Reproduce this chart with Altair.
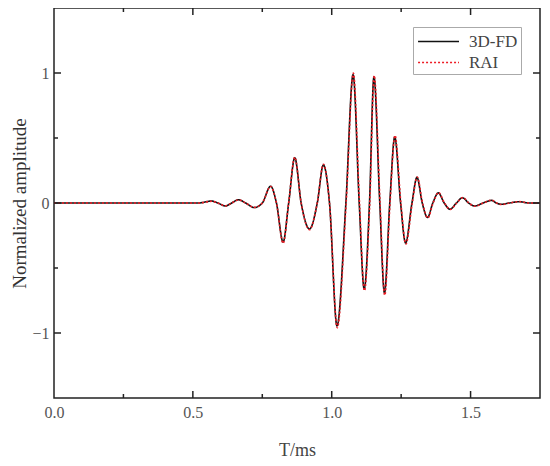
import altair as alt
import pandas as pd

# 3D-FD trace (time in ms, normalized amplitude)
t_fd = [0.0, 0.52, 0.568, 0.59, 0.617, 0.64, 0.664, 0.69, 0.721, 0.75, 0.780, 0.801, 0.825, 0.845,
        0.867, 0.890, 0.920, 0.948, 0.970, 0.992, 1.019, 1.051, 1.077, 1.099, 1.117, 1.136, 1.152,
        1.173, 1.190, 1.209, 1.227, 1.248, 1.266, 1.289, 1.307, 1.326, 1.345, 1.364, 1.384, 1.405,
        1.426, 1.449, 1.471, 1.493, 1.515, 1.545, 1.575, 1.593, 1.61, 1.64, 1.676, 1.71, 1.75]
a_fd = [0.0, 0.0, 0.015, 0.0, -0.023, 0.0, 0.025, 0.0, -0.035, 0.0, 0.129, 0.0, -0.30, 0.0,
        0.348, 0.0, -0.20, 0.0, 0.293, 0.0, -0.945, 0.0, 0.987, 0.0, -0.662, 0.0, 0.97,
        0.0, -0.692, 0.0, 0.508, 0.0, -0.308, 0.0, 0.197, 0.0, -0.111, 0.0, 0.078, 0.0,
        -0.048, 0.0, 0.040, 0.0, -0.023, 0.0, 0.02, 0.0, -0.01, 0.0, 0.01, 0.0, 0.0]

# RAI trace
t_rai = [0.0, 0.52, 0.568, 0.59, 0.617, 0.64, 0.664, 0.69, 0.721, 0.75, 0.780, 0.801, 0.825, 0.845,
         0.867, 0.890, 0.920, 0.948, 0.970, 0.992, 1.020, 1.052, 1.078, 1.100, 1.118, 1.137, 1.153,
         1.174, 1.191, 1.210, 1.228, 1.249, 1.267, 1.290, 1.308, 1.327, 1.346, 1.365, 1.385, 1.406,
         1.427, 1.450, 1.472, 1.494, 1.516, 1.546, 1.576, 1.594, 1.61, 1.64, 1.676, 1.71, 1.75]
a_rai = [0.0, 0.0, 0.013, 0.0, -0.022, 0.0, 0.024, 0.0, -0.034, 0.0, 0.127, 0.0, -0.31, 0.0,
         0.352, 0.0, -0.205, 0.0, 0.298, 0.0, -0.96, 0.0, 1.0, 0.0, -0.675, 0.0, 0.98,
         0.0, -0.71, 0.0, 0.52, 0.0, -0.315, 0.0, 0.20, 0.0, -0.115, 0.0, 0.08, 0.0,
         -0.05, 0.0, 0.042, 0.0, -0.025, 0.0, 0.022, 0.0, -0.012, 0.0, 0.011, 0.0, 0.0]

series_names = ["3D-FD", "RAI"]
series_colors = ["#111111", "#ee1c25"]

x_major = [0.0, 0.5, 1.0, 1.5]
x_minor = [0.25, 0.75, 1.25]
y_major = [-1, 0, 1]
y_minor = [-0.5, 0.5]

W, H = 486, 390

df = pd.concat([
    pd.DataFrame({"t": t_fd, "a": a_fd, "series": series_names[0]}),
    pd.DataFrame({"t": t_rai, "a": a_rai, "series": series_names[1]}),
], ignore_index=True)

xs = alt.Scale(domain=[0, 1.75], nice=False, zero=False)
ys = alt.Scale(domain=[-1.5, 1.5], nice=False, zero=False)

x_axis = alt.Axis(values=x_major, format=".1f", ticks=False, domain=False, grid=False,
                  labelFlush=False, labelPadding=6, titlePadding=21, labelFontSize=16, titleFontSize=18,
                  labelFont="Liberation Serif", titleFont="Liberation Serif",
                  labelColor="#555", titleColor="#444", titleFontWeight="normal")
y_axis = alt.Axis(values=y_major, format="d", ticks=False, domain=False, grid=False,
                  labelFlush=False, labelPadding=5, titlePadding=2, labelFontSize=16, titleFontSize=19,
                  labelFont="Liberation Serif", titleFont="Liberation Serif",
                  labelColor="#555", titleColor="#333", titleFontWeight="normal")
X_TITLE = "T/ms"
Y_TITLE = "Normalized amplitude"

lines = alt.Chart(df).mark_line(interpolate="monotone", strokeWidth=1.6).encode(
    x=alt.X("t:Q", scale=xs, title=X_TITLE, axis=x_axis),
    y=alt.Y("a:Q", scale=ys, title=Y_TITLE, axis=y_axis),
    stroke=alt.Stroke("series:N", scale=alt.Scale(domain=series_names, range=series_colors),
                      legend=alt.Legend(title=None, orient="none", legendX=359, legendY=19,
                                        fillColor="white", strokeColor="#aaa", padding=3,
                                        symbolType="M-0.9,0H3", symbolSize=441, symbolStrokeWidth=1.6,
                                        labelFont="Liberation Serif", labelFontSize=17,
                                        labelColor="#444", rowPadding=1, labelOffset=30)),
    strokeDash=alt.StrokeDash("series:N", scale=alt.Scale(domain=series_names, range=[[1, 0], [2, 2]]),
                              legend=alt.Legend(title=None, orient="none", legendX=359, legendY=19)),
    order=alt.Order("series:N"),
)

def xticks(vals, length):
    d = pd.DataFrame({"t": vals})
    bottom = alt.Chart(d).mark_rule(color="#222", strokeWidth=1.5).encode(
        x=alt.X("t:Q", scale=xs, title=X_TITLE, axis=x_axis), y=alt.value(H), y2=alt.value(H - length))
    top = alt.Chart(d).mark_rule(color="#222", strokeWidth=1.5).encode(
        x=alt.X("t:Q", scale=xs, title=X_TITLE, axis=x_axis), y=alt.value(0), y2=alt.value(length))
    return [bottom, top]

def yticks(vals, length):
    d = pd.DataFrame({"a": vals})
    left = alt.Chart(d).mark_rule(color="#222", strokeWidth=1.5).encode(
        y=alt.Y("a:Q", scale=ys, title=Y_TITLE, axis=y_axis), x=alt.value(0), x2=alt.value(length))
    right = alt.Chart(d).mark_rule(color="#222", strokeWidth=1.5).encode(
        y=alt.Y("a:Q", scale=ys, title=Y_TITLE, axis=y_axis), x=alt.value(W), x2=alt.value(W - length))
    return [left, right]

layers = [lines] + xticks(x_major[1:], 7) + xticks(x_minor, 4) + yticks(y_major, 7) + yticks(y_minor, 4)

chart = alt.layer(*layers).properties(
    width=W, height=H,
    autosize=alt.AutoSizeParams(type="none"),
    padding={"left": 46, "top": 0, "right": 2, "bottom": 60},
).configure_view(stroke="#222", strokeWidth=1.5)

chart.save("out.html", embed_options={"renderer": "svg", "actions": False})
